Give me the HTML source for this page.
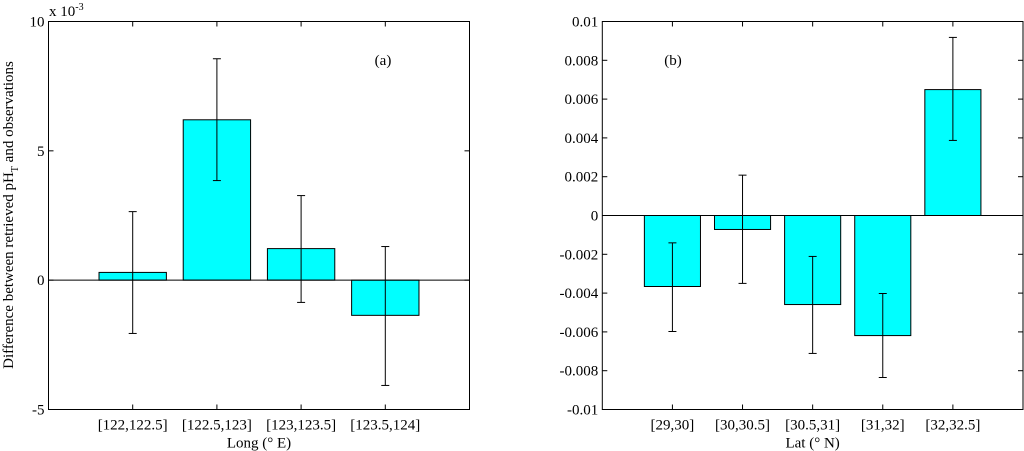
<!DOCTYPE html>
<html><head><meta charset="utf-8"><style>
html,body{margin:0;padding:0;background:#fff;}
svg{display:block;font-family:"Liberation Serif",serif;}
</style></head><body>
<svg id="chart" width="1024" height="451" viewBox="0 0 1024 451"></svg>
<script>
const catsA=["[122,122.5]","[122.5,123]","[123,123.5]","[123.5,124]"];
const valsA=[0.3,6.2,1.22,-1.36];
const errHiA=[2.65,8.56,3.27,1.3];
const errLoA=[-2.06,3.85,-0.86,-4.07];
const ticksA=[-5,0,5,10];
const catsB=["[29,30]","[30,30.5]","[30.5,31]","[31,32]","[32,32.5]"];
const valsB=[-3.66,-0.72,-4.59,-6.19,6.49];
const errHiB=[-1.41,2.08,-2.11,-4.02,9.18];
const errLoB=[-5.98,-3.5,-7.11,-8.35,3.87];
const ticksB=[-10,-8,-6,-4,-2,0,2,4,6,8,10];
const tickLabelsB=["-0.01","-0.008","-0.006","-0.004","-0.002","0","0.002","0.004","0.006","0.008","0.01"];
const NS="http://www.w3.org/2000/svg";
const svg=document.getElementById('chart');
function mk(tag,attrs,parent){const e=document.createElementNS(NS,tag);for(const k in attrs)e.setAttribute(k,attrs[k]);(parent||svg).appendChild(e);return e;}
function panel(o){
  const g=mk('g',{});
  
  
  const x=i=>o.L+(i+1)*(o.R-o.L)/(o.cats.length+1);
  const y=v=>o.B-(v-o.ymin)/(o.ymax-o.ymin)*(o.B-o.T);
  const bw=0.8*(o.R-o.L)/(o.cats.length+1);
  o.vals.forEach((v,i)=>{
    const r=mk('rect',{x:x(i)-bw/2,y:Math.min(y(v),y(0)),width:bw,height:Math.abs(y(v)-y(0)),fill:'#00ffff',stroke:'#000','stroke-width':1},g);
    
    
  });
  mk('line',{x1:o.L,x2:o.R,y1:y(0),y2:y(0),stroke:'#000'},g);
  o.hi.forEach((h,i)=>{
    const eg=mk('g',{stroke:'#000','stroke-width':1},g);
    
    
    const cx=x(i);
    mk('line',{x1:cx,x2:cx,y1:y(h),y2:y(o.lo[i])},eg);
    mk('line',{x1:cx-4,x2:cx+4,y1:y(h),y2:y(h)},eg);
    mk('line',{x1:cx-4,x2:cx+4,y1:y(o.lo[i]),y2:y(o.lo[i])},eg);
  });
  const fr=mk('rect',{x:o.L,y:o.T,width:o.R-o.L,height:o.B-o.T,fill:'none',stroke:'#000'},g);
  
  
  o.ticks.forEach((t,i)=>{
    const yy=y(t);
    mk('line',{x1:o.L,x2:o.L+5,y1:yy,y2:yy,stroke:'#000'},g);
    mk('line',{x1:o.R-5,x2:o.R,y1:yy,y2:yy,stroke:'#000'},g);
    const tx=mk('text',{x:o.L-4,y:yy+5,'text-anchor':'end','font-size':15},g);
    tx.textContent=o.tickLabels[i];
    
    
  });
  o.cats.forEach((c,i)=>{
    const xx=x(i);
    mk('line',{x1:xx,x2:xx,y1:o.B,y2:o.B-5,stroke:'#000'},g);
    mk('line',{x1:xx,x2:xx,y1:o.T,y2:o.T+5,stroke:'#000'},g);
    const tx=mk('text',{x:xx,y:o.B+20,'text-anchor':'middle','font-size':15},g);
    tx.textContent=c;
    
    
  });
  const xt=mk('text',{x:(o.L+o.R)/2,y:o.B+38,'text-anchor':'middle','font-size':15},g);
  xt.textContent=o.xlabel;
  
  
  const pl=mk('text',{x:o.px,y:65,'text-anchor':'middle','font-size':15},g);
  pl.textContent=o.plabel;
  
  
}
panel({name:'panel-a',L:48.5,R:469.5,T:21.5,B:409.5,ymin:-5,ymax:10,cats:catsA,vals:valsA,hi:errHiA,lo:errLoA,ticks:ticksA,tickLabels:ticksA.map(String),xlabel:'Long (° E)',plabel:'(a)',px:383});
panel({name:'panel-b',L:602.3,R:1023,T:21.5,B:409.5,ymin:-10,ymax:10,cats:catsB,vals:valsB,hi:errHiB,lo:errLoB,ticks:ticksB,tickLabels:tickLabelsB,xlabel:'Lat (° N)',plabel:'(b)',px:673});
</script>
<svg style="position:absolute;left:0;top:0" width="1024" height="451">
<text x="49" y="16" font-size="15" style="font-family:'Liberation Serif',serif">x 10<tspan dy="-6" font-size="10">-3</tspan></text>
<text transform="translate(13,215) rotate(-90)" text-anchor="middle" font-size="15" style="font-family:'Liberation Serif',serif">Difference between retrieved pH<tspan dy="5" font-size="10">T</tspan><tspan dy="-5"> and observations</tspan></text>
</svg>
</body></html>
